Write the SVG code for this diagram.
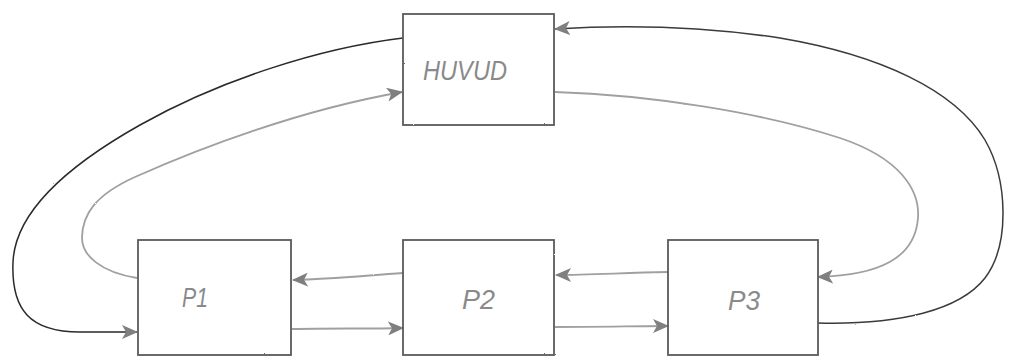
<svg xmlns="http://www.w3.org/2000/svg" width="1011" height="356" viewBox="0 0 1011 356">
<defs>
<style>
.box{fill:#fff;stroke:#5a5a5a;stroke-width:1.8}
.lbl{font-family:"Liberation Sans",Arial,sans-serif;font-size:28px;font-style:italic;fill:#8a8a8a}
.dark{fill:none;stroke:#2a2a2a;stroke-width:1.5}
.gray{fill:none;stroke:#a0a0a0;stroke-width:1.8}
</style>
<marker id="ah" viewBox="0 0 16 14" refX="15" refY="7" markerWidth="16" markerHeight="14" markerUnits="userSpaceOnUse" orient="auto">
<path d="M0,0 L16,7 L0,14 L4,7 Z" fill="#7f7f7f"/>
</marker>
<filter id="rough" x="-5%" y="-5%" width="110%" height="110%">
<feTurbulence type="fractalNoise" baseFrequency="0.9" numOctaves="1" seed="3"/>
<feDisplacementMap in="SourceGraphic" scale="1.6"/>
</filter>
</defs>
<rect width="1011" height="356" fill="#fff"/>
<g id="connectors" filter="url(#rough)">
<path class="dark" d="M403,38 C320,48 220,80 140,125 C60,170 15,215 13,262 C11,310 30,332 80,332 L137,332" marker-end="url(#ah)"/>
<path class="gray" d="M137,278 C100,272 82,255 82,238 C82,215 95,195 135,177 C200,148 300,110 402,92" marker-end="url(#ah)"/>
<path class="dark" style="stroke:#3a3a3a" d="M818,323 C900,325 960,310 985,278 C1010,245 1008,180 985,140 C955,90 880,55 780,38 C700,26 620,25 555,29" marker-end="url(#ah)"/>
<path class="gray" d="M555,92 C650,95 760,112 840,138 C900,158 920,190 918,218 C915,258 880,275 818,277" marker-end="url(#ah)"/>
<path class="gray" d="M403,273 C360,276 330,279 293,280" marker-end="url(#ah)"/>
<path class="gray" d="M292,329 C330,328 370,329 403,328" marker-end="url(#ah)"/>
<path class="gray" d="M668,272 C620,273 590,275 556,275" marker-end="url(#ah)"/>
<path class="gray" d="M555,327 C600,327 640,326 668,326" marker-end="url(#ah)"/>
</g>
<g id="huvud">
<rect class="box" x="403" y="14" width="151" height="111" filter="url(#rough)"/>
<text class="lbl" x="423" y="80" textLength="84" lengthAdjust="spacingAndGlyphs">HUVUD</text>
</g>
<g id="p1">
<rect class="box" x="138" y="240" width="153" height="115" filter="url(#rough)"/>
<text class="lbl" x="182" y="307" textLength="26" lengthAdjust="spacingAndGlyphs">P1</text>
</g>
<g id="p2">
<rect class="box" x="403" y="240" width="151" height="115" filter="url(#rough)"/>
<text class="lbl" x="462" y="309" textLength="33" lengthAdjust="spacingAndGlyphs">P2</text>
</g>
<g id="p3">
<rect class="box" x="668" y="240" width="150" height="115" filter="url(#rough)"/>
<text class="lbl" x="728" y="310" textLength="32" lengthAdjust="spacingAndGlyphs">P3</text>
</g>
</svg>
